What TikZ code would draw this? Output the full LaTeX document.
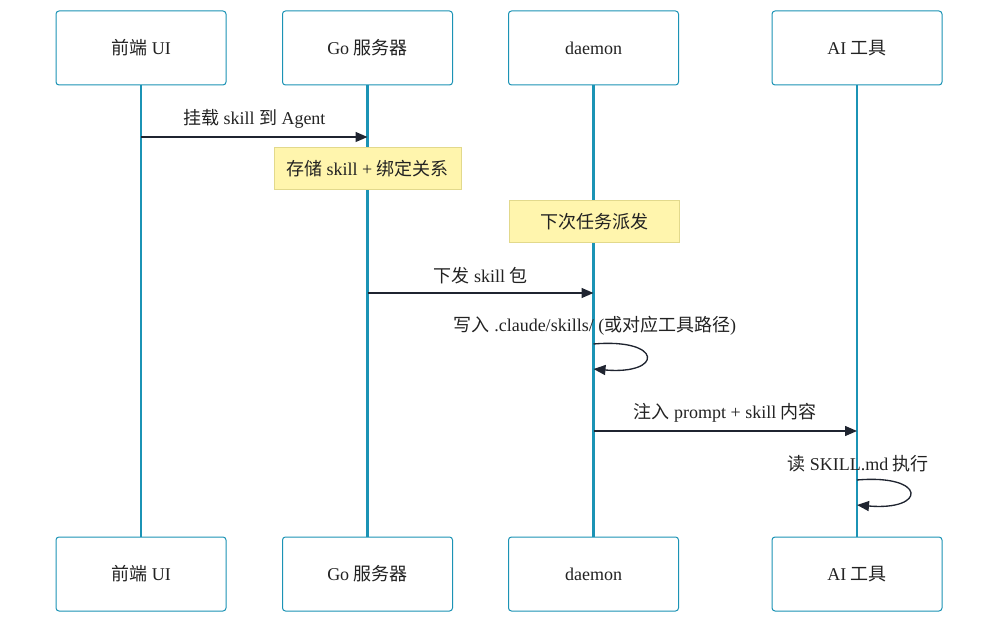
\documentclass[tikz,border=0pt]{standalone}
\usepackage{fontspec}
\setmainfont{Liberation Serif}
\newfontfamily\cjk{Noto Sans CJK SC}
\usetikzlibrary{arrows.meta,positioning}
\definecolor{Lane}{HTML}{1B93B5}
\definecolor{Ink}{HTML}{1F2430}
\definecolor{NoteFill}{HTML}{FFF5AD}
\definecolor{NoteEdge}{HTML}{E2D98C}
\definecolor{Txt}{HTML}{222222}
\tikzset{
  every node/.append style={text=Txt, font=\fontsize{13.5}{16}\selectfont},
  actor/.style={draw=Lane, line width=0.75pt, rounded corners=2.25pt, fill=white,
                minimum width=127.5pt, minimum height=55.5pt, inner sep=0pt},
  note/.style={draw=NoteEdge, line width=0.75pt, fill=NoteFill,
               minimum height=31.5pt, inner sep=0pt},
  life/.style={draw=Lane, line width=1.6pt},
  msg/.style={-{Triangle[length=9pt,width=7.5pt]}, line width=1pt, draw=Ink},
  lbl/.style={inner sep=1pt},
}

\begin{document}
\begin{tikzpicture}[x=0.75pt, y=-0.75pt]
  \useasboundingbox (0,0) rectangle (1000,623);
  % actors
  \node[actor] (ui)  at (141,48)   {{\cjk 前端} UI};
  \node[actor] (go)  at (367.5,48) {Go {\cjk 服务器}};
  \node[actor] (dm)  at (593.5,48) {daemon};
  \node[actor] (ai)  at (857,48)   {AI {\cjk 工具}};
  \node[actor] (ui2) at (141,574)  {{\cjk 前端} UI};
  \node[actor] (go2) at (367.5,574){Go {\cjk 服务器}};
  \node[actor] (dm2) at (593.5,574){daemon};
  \node[actor] (ai2) at (857,574)  {AI {\cjk 工具}};
  \draw[life] (ui) -- (ui2); \draw[life] (go) -- (go2);
  \draw[life] (dm) -- (dm2); \draw[life] (ai) -- (ai2);
  % notes
  \node[note, minimum width=140.25pt] (store) at (367.5,169) {{\cjk 存储} skill + {\cjk 绑定关系}};
  \node[note, minimum width=127.5pt] (next) at (594,222) {\cjk 下次任务派发};
  % messages
  \draw[msg] (ui |- 0,137) -- (go |- 0,137)
    node[lbl, midway, above=5pt] {{\cjk 挂载} skill {\cjk 到} Agent};
  \draw[msg] (go |- 0,293) -- (dm |- 0,293)
    node[lbl, midway, above=5pt] {{\cjk 下发} skill {\cjk 包}};
  \node[lbl] (wr) at (595,326) {{\cjk 写入} .claude/skills/ ({\cjk 或对应工具路径})};
  \draw[msg] (dm |- 0,344) .. controls +(70,-6) and +(70,6) .. (dm |- 0,369);
  \draw[msg] (dm |- 0,431) -- (ai |- 0,431)
    node[lbl, midway, above=5pt] {{\cjk 注入} prompt + skill {\cjk 内容}};
  \node[lbl] (rd) at (858,464) {{\cjk 读} SKILL.md {\cjk 执行}};
  \draw[msg] (ai |- 0,480) .. controls +(70,-6) and +(70,6) .. (ai |- 0,505);
\end{tikzpicture}
\end{document}
